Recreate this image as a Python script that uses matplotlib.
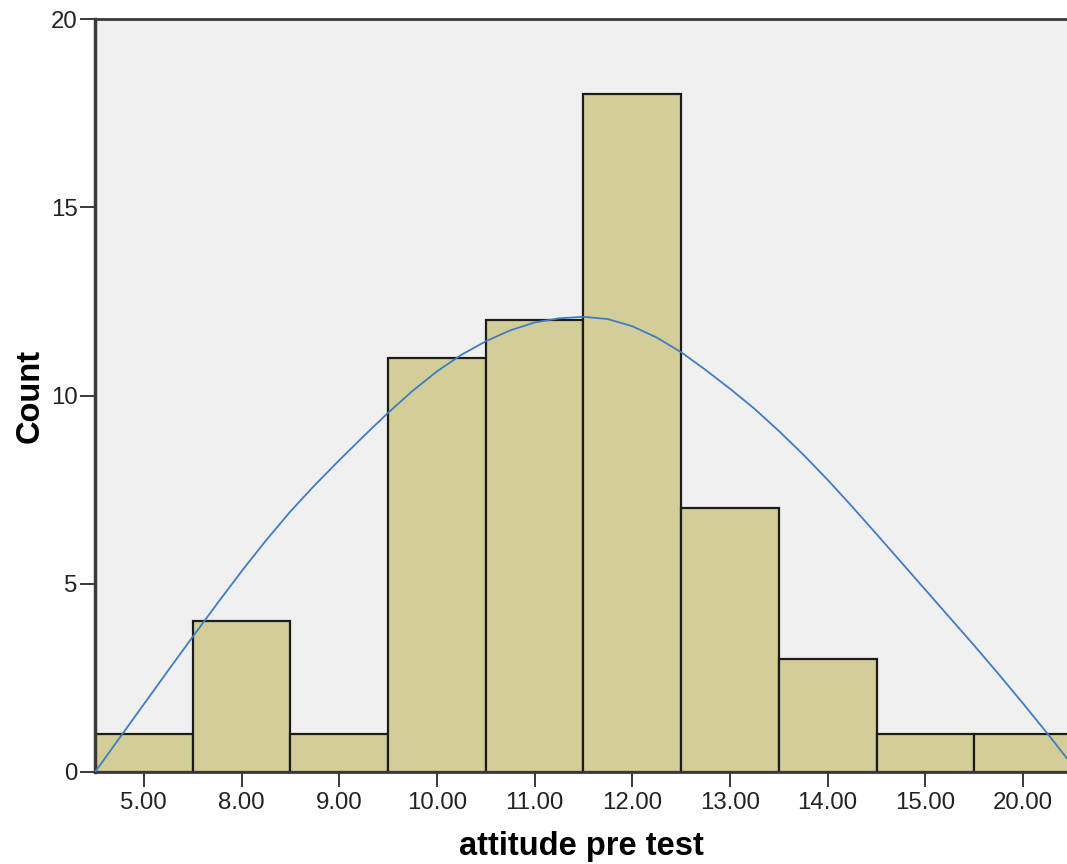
import matplotlib.pyplot as plt
import numpy as np

# histogram bins (categorical) and counts
categories = ['5.00', '8.00', '9.00', '10.00', '11.00', '12.00',
              '13.00', '14.00', '15.00', '20.00']
counts = [1, 4, 1, 11, 12, 18, 7, 3, 1, 1]

# normal curve (bin-index position, count)
curve_x = [-0.5, -0.25, 0.0, 0.25, 0.5, 0.75, 1.0, 1.25, 1.5, 1.75,
           2.0, 2.25, 2.5, 2.75, 3.0, 3.25, 3.5, 3.75, 4.0, 4.25,
           4.5, 4.75, 5.0, 5.25, 5.5, 5.75, 6.0, 6.25, 6.5, 6.75,
           7.0, 7.25, 7.5, 7.75, 8.0, 8.25, 8.5, 8.75, 9.0, 9.25, 9.45]
curve_y = [0.0, 0.90, 1.80, 2.70, 3.59, 4.47, 5.33, 6.15, 6.92, 7.62,
           8.28, 8.92, 9.54, 10.12, 10.64, 11.08, 11.44, 11.73, 11.94, 12.05,
           12.09, 12.03, 11.84, 11.54, 11.15, 10.68, 10.18, 9.65, 9.06, 8.43,
           7.76, 7.05, 6.32, 5.58, 4.84, 4.10, 3.36, 2.60, 1.82, 1.02, 0.36]

plt.rcParams['font.family'] = ['Liberation Sans', 'DejaVu Sans']

fig = plt.figure(figsize=(10.67, 8.64), dpi=100)
ax = fig.add_axes([95 / 1067, 1 - 772 / 864, 1 - 95 / 1067, (772 - 19) / 864])
ax.set_facecolor('#f0f0f0')

pos = np.arange(len(categories))
ax.bar(pos, counts, width=1.0, color='#d3ce97', edgecolor='#1c1c1c',
       linewidth=1.6, zorder=2)
ax.plot(curve_x, curve_y, color='#3f7cc4', linewidth=1.3, zorder=3)

ax.set_xlim(-0.5, 9.45)
ax.set_ylim(0, 20)
ax.set_xticks(pos)
ax.set_xticklabels(categories)
ax.set_yticks([0, 5, 10, 15, 20])

ax.spines['right'].set_visible(False)
for s in ['left', 'top', 'bottom']:
    ax.spines[s].set_color('#3a3a3a')
ax.spines['left'].set_linewidth(2.5)
ax.spines['top'].set_linewidth(2.0)
ax.spines['bottom'].set_linewidth(2.0)

ax.tick_params(axis='both', direction='out', length=10.5, width=1.4,
               color='#3a3a3a', labelsize=17.3, labelcolor='#222222')
ax.tick_params(axis='y', pad=2)
ax.tick_params(axis='x', pad=4)

ax.set_xlabel('attitude pre test', fontsize=23.5, fontweight='bold', labelpad=12)
ax.set_ylabel('Count', fontsize=23.5, fontweight='bold', labelpad=4)

fig.savefig('out.png', dpi=100)
